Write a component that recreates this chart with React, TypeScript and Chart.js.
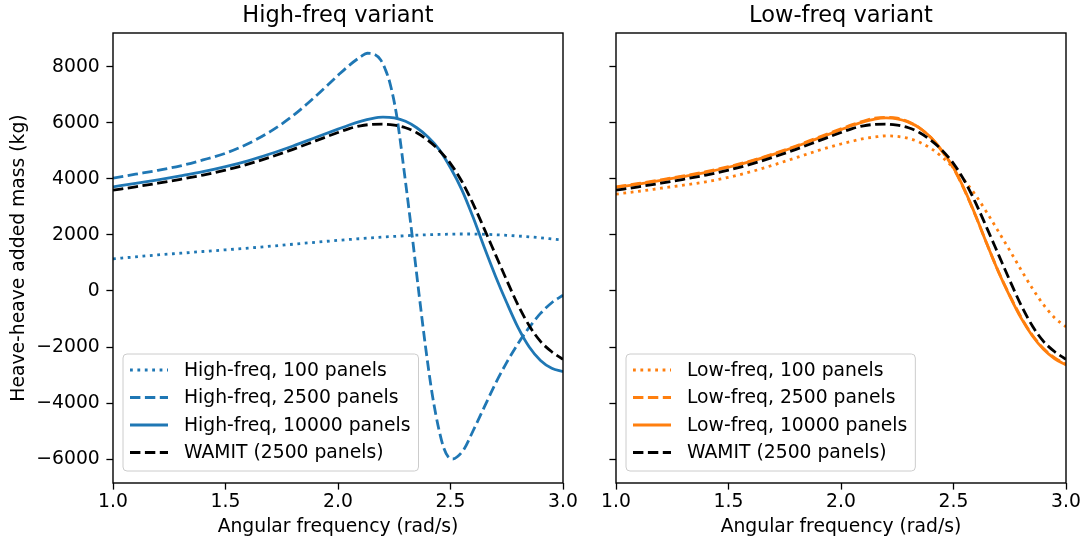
import React, { useEffect, useRef } from 'react';
import { Chart, registerables } from 'chart.js';

Chart.register(...registerables);

// ---------------- data ----------------
const FREQ = [1.0, 1.1, 1.2, 1.3, 1.4, 1.5, 1.6, 1.7, 1.8, 1.9, 2.0, 2.05, 2.1, 2.15, 2.2, 2.25, 2.3, 2.35, 2.4, 2.45, 2.5, 2.55, 2.6, 2.65, 2.7, 2.75, 2.8, 2.85, 2.9, 2.95, 3.0];

const HF_100 = [1150, 1220, 1290, 1350, 1410, 1470, 1530, 1600, 1670, 1740, 1810, 1840, 1870, 1900, 1930, 1950, 1975, 1995, 2010, 2020, 2030, 2035, 2035, 2025, 2010, 1990, 1965, 1935, 1900, 1860, 1820];

const HF_2500_FREQ = [1.0, 1.1, 1.2, 1.3, 1.4, 1.5, 1.6, 1.7, 1.8, 1.9, 2.0, 2.05, 2.1, 2.13, 2.16, 2.19, 2.21, 2.23, 2.26, 2.3, 2.33, 2.36, 2.39, 2.42, 2.45, 2.47, 2.49, 2.51, 2.53, 2.56, 2.6, 2.65, 2.7, 2.75, 2.8, 2.85, 2.9, 2.95, 3.0];
const HF_2500 = [4030, 4170, 4310, 4470, 4680, 4920, 5260, 5700, 6260, 6950, 7700, 8060, 8360, 8490, 8460, 8250, 7920, 7450, 6300, 3900, 1950, -100, -2050, -3750, -5000, -5600, -5920, -6000, -5920, -5650, -5000, -4150, -3300, -2550, -1880, -1300, -800, -420, -150];

const HF_10000 = [3720, 3840, 3970, 4110, 4260, 4440, 4650, 4900, 5180, 5480, 5780, 5930, 6060, 6160, 6210, 6180, 6060, 5830, 5500, 5050, 4400, 3620, 2640, 1560, 530, -420, -1300, -2000, -2480, -2760, -2880];

const WAMIT_2500 = [3600, 3720, 3850, 3990, 4140, 4320, 4530, 4780, 5060, 5360, 5660, 5800, 5900, 5950, 5960, 5920, 5830, 5650, 5380, 5020, 4550, 3920, 3120, 2220, 1300, 380, -500, -1240, -1800, -2170, -2440];

const LF_100 = [3460, 3560, 3670, 3780, 3900, 4060, 4260, 4500, 4760, 5020, 5250, 5350, 5440, 5500, 5540, 5520, 5450, 5310, 5090, 4780, 4390, 3930, 3400, 2780, 2120, 1450, 760, 100, -490, -960, -1280];

const LF_2500 = [3720, 3840, 3970, 4110, 4260, 4440, 4650, 4900, 5180, 5490, 5790, 5940, 6070, 6170, 6200, 6170, 6040, 5820, 5470, 4980, 4380, 3580, 2650, 1650, 690, -160, -930, -1570, -2050, -2390, -2610];

const LF_10000 = [3700, 3820, 3950, 4090, 4240, 4420, 4630, 4880, 5160, 5460, 5760, 5910, 6040, 6140, 6180, 6150, 6030, 5820, 5480, 5000, 4400, 3600, 2660, 1650, 680, -180, -960, -1600, -2080, -2420, -2640];

const X_TICKS = [1.0, 1.5, 2.0, 2.5, 3.0];
const Y_TICKS = [-6000, -4000, -2000, 0, 2000, 4000, 6000, 8000];

const X_MIN = 1.0;
const X_MAX = 3.0;
const Y_MIN = -6857;
const Y_MAX = 9214;

const LEFT_TITLE = 'High-freq variant';
const RIGHT_TITLE = 'Low-freq variant';
const X_LABEL = 'Angular frequency (rad/s)';
const Y_LABEL = 'Heave-heave added mass (kg)';

// ---------------- styles ----------------
const BLUE = '#1f77b4';
const ORANGE = '#ff7f0e';
const BLACK = '#000000';
const FONT = '"DejaVu Sans", "Liberation Sans", sans-serif';
const FS = 18.75;
const LW = 2.8;
const DASH: Record<string, number[]> = {
  dotted: [2.8, 4.6],
  dashed: [10.4, 4.5],
  solid: [],
};

type Series = { label: string; xs: number[]; ys: number[]; color: string; style: string };

const LEFT_SERIES: Series[] = [
  { label: 'High-freq, 100 panels', xs: FREQ, ys: HF_100, color: BLUE, style: 'dotted' },
  { label: 'High-freq, 2500 panels', xs: HF_2500_FREQ, ys: HF_2500, color: BLUE, style: 'dashed' },
  { label: 'High-freq, 10000 panels', xs: FREQ, ys: HF_10000, color: BLUE, style: 'solid' },
  { label: 'WAMIT (2500 panels)', xs: FREQ, ys: WAMIT_2500, color: BLACK, style: 'dashed' },
];

const RIGHT_SERIES: Series[] = [
  { label: 'Low-freq, 100 panels', xs: FREQ, ys: LF_100, color: ORANGE, style: 'dotted' },
  { label: 'Low-freq, 2500 panels', xs: FREQ, ys: LF_2500, color: ORANGE, style: 'dashed' },
  { label: 'Low-freq, 10000 panels', xs: FREQ, ys: LF_10000, color: ORANGE, style: 'solid' },
  { label: 'WAMIT (2500 panels)', xs: FREQ, ys: WAMIT_2500, color: BLACK, style: 'dashed' },
];

const fmtY = (v: number) => (v < 0 ? '\u2212' + Math.abs(v) : String(v));

function makeDecor(title: string, series: Series[]) {
  return {
    id: 'panelDecor',
    afterDatasetsDraw(chart: any) {
      const { ctx, chartArea: a } = chart;
      ctx.save();
      // spines
      ctx.setLineDash([]);
      ctx.strokeStyle = '#000';
      ctx.lineWidth = 1.4;
      ctx.strokeRect(a.left, a.top, a.right - a.left, a.bottom - a.top);

      // legend
      ctx.font = `${FS}px ${FONT}`;
      let maxW = 0;
      series.forEach((s) => {
        maxW = Math.max(maxW, ctx.measureText(s.label).width);
      });
      const bx = a.left + 10;
      const by = a.bottom - 129;
      const bw = 61 + maxW + 8;
      const bh = 117;
      ctx.beginPath();
      if (ctx.roundRect) ctx.roundRect(bx, by, bw, bh, 4);
      else ctx.rect(bx, by, bw, bh);
      ctx.fillStyle = 'rgba(255,255,255,0.8)';
      ctx.fill();
      ctx.strokeStyle = '#cccccc';
      ctx.lineWidth = 1;
      ctx.stroke();
      series.forEach((s, i) => {
        const y = by + 16 + i * 27.5;
        ctx.beginPath();
        ctx.setLineDash(DASH[s.style]);
        ctx.lineCap = 'butt';
        ctx.strokeStyle = s.color;
        ctx.lineWidth = LW;
        ctx.moveTo(bx + 7, y);
        ctx.lineTo(bx + 45, y);
        ctx.stroke();
        ctx.setLineDash([]);
        ctx.fillStyle = '#000';
        ctx.textAlign = 'left';
        ctx.textBaseline = 'middle';
        ctx.fillText(s.label, bx + 61, y + 1);
      });

      // title
      ctx.font = `22.5px ${FONT}`;
      ctx.fillStyle = '#000';
      ctx.textAlign = 'center';
      ctx.textBaseline = 'alphabetic';
      ctx.fillText(title, (a.left + a.right) / 2, a.top - 11);
      ctx.restore();
    },
  };
}

function Panel(props: {
  left: number;
  width: number;
  padRight: number;
  yWidth: number;
  showYLabels: boolean;
  title: string;
  series: Series[];
}) {
  const ref = useRef<HTMLCanvasElement | null>(null);
  useEffect(() => {
    if (!ref.current) return;
    const { series, showYLabels, yWidth, padRight, title } = props;
    const datasets = series.map((s, i) => ({
      label: s.label,
      data: s.xs.map((x, j) => ({ x, y: s.ys[j] })),
      borderColor: s.color,
      backgroundColor: s.color,
      borderWidth: LW,
      borderDash: DASH[s.style],
      borderCapStyle: 'butt' as const,
      pointRadius: 0,
      fill: false,
      cubicInterpolationMode: 'monotone' as const,
      order: series.length - 1 - i,
    }));
    const tickGrid = {
      display: true,
      drawOnChartArea: false,
      drawTicks: true,
      tickLength: 6.6,
      tickWidth: 1.3,
      tickColor: '#000',
    };
    const chart = new Chart(ref.current, {
      type: 'line',
      data: { datasets },
      options: {
        animation: false,
        responsive: false,
        devicePixelRatio: 1,
        layout: { padding: { top: 33, right: padRight, left: 0, bottom: 0 } },
        plugins: { legend: { display: false }, tooltip: { enabled: false }, title: { display: false } },
        scales: {
          x: {
            type: 'linear',
            min: X_MIN,
            max: X_MAX,
            afterFit: (s: any) => {
              s.height = 60;
            },
            afterBuildTicks: (s: any) => {
              s.ticks = X_TICKS.map((v) => ({ value: v }));
            },
            ticks: {
              autoSkip: false,
              maxRotation: 0,
              padding: 1,
              color: '#000',
              font: { size: FS, family: FONT },
              callback: (v: any) => Number(v).toFixed(1),
            },
            grid: tickGrid,
            border: { display: false },
            title: {
              display: true,
              text: X_LABEL,
              color: '#000',
              font: { size: FS, family: FONT },
              padding: { top: 0, bottom: 5 },
            },
          },
          y: {
            type: 'linear',
            min: Y_MIN,
            max: Y_MAX,
            afterFit: (s: any) => {
              s.width = yWidth;
            },
            afterBuildTicks: (s: any) => {
              s.ticks = Y_TICKS.map((v) => ({ value: v }));
            },
            ticks: {
              autoSkip: false,
              padding: 6.6,
              color: '#000',
              font: { size: FS, family: FONT },
              callback: (v: any) => (showYLabels ? fmtY(Number(v)) : ''),
            },
            grid: tickGrid,
            border: { display: false },
            title: {
              display: showYLabels,
              text: Y_LABEL,
              color: '#000',
              font: { size: FS, family: FONT },
              padding: { top: 8, bottom: 0 },
            },
          },
        },
      },
      plugins: [makeDecor(title, series)],
    });
    return () => chart.destroy();
  }, []);
  return (
    <canvas
      ref={ref}
      width={props.width}
      height={543}
      style={{ position: 'absolute', left: props.left, top: 0, width: props.width, height: 543, display: 'block' }}
    />
  );
}

export default function App() {
  return (
    <div
      style={{
        position: 'absolute',
        left: 0,
        top: 0,
        width: 1088,
        height: 543,
        overflow: 'hidden',
        background: '#fff',
      }}
    >
      <Panel left={0} width={590} padRight={27} yWidth={113} showYLabels={true} title={LEFT_TITLE} series={LEFT_SERIES} />
      <Panel left={590} width={498} padRight={22} yWidth={26} showYLabels={false} title={RIGHT_TITLE} series={RIGHT_SERIES} />
    </div>
  );
}
